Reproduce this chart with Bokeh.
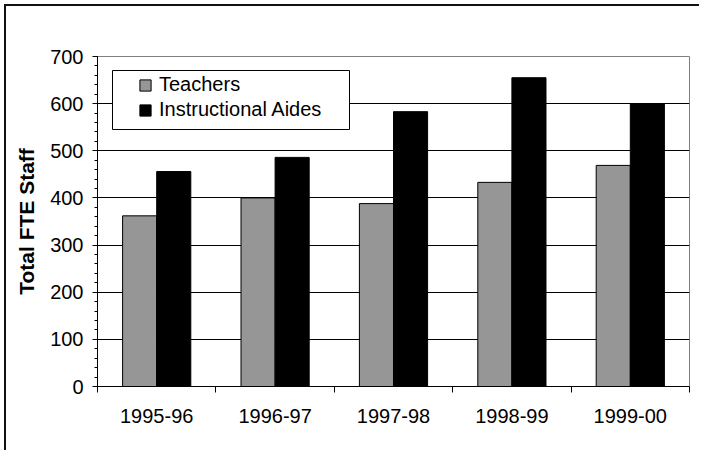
from bokeh.plotting import figure
from bokeh.models import (ColumnDataSource, FactorRange, Range1d, LinearAxis, FixedTicker,
                          SingleIntervalTicker, Legend, LegendItem, BoxAnnotation)
from bokeh.transform import dodge
from bokeh.embed import file_html
from bokeh.resources import INLINE

# ---- data ----
years = ["1995-96", "1996-97", "1997-98", "1998-99", "1999-00"]
teachers = [362, 400, 388, 433, 469]
aides = [456, 486, 583, 655, 600]
series_names = ["Teachers", "Instructional Aides"]
y_label = "Total FTE Staff"

FONT = "Liberation Sans"

source = ColumnDataSource(dict(year=years, teachers=teachers, aides=aides))

p = figure(x_range=FactorRange(factors=years), y_range=Range1d(0, 700),
           width=695, height=446, output_backend="svg", toolbar_location=None,
           x_axis_location=None,
           min_border_left=91, min_border_top=50, min_border_right=12, min_border_bottom=66)
p.styles = {"margin-left": "6px", "margin-top": "6px",
            "box-shadow": "-2px -2px 0 0 #111"}
p.background_fill_color = "white"
p.border_fill_color = "white"
p.outline_line_color = "#808080"
p.outline_line_width = 1

r1 = p.vbar(x=dodge("year", -0.144, range=p.x_range), top="teachers", width=0.288,
            source=source, fill_color="#969696", line_color="black", line_width=1)
r2 = p.vbar(x=dodge("year", 0.144, range=p.x_range), top="aides", width=0.288,
            source=source, fill_color="black", line_color="black", line_width=1)

# x axis: labels at category centres, ticks at category boundaries
n = len(years)
xaxis = LinearAxis(ticker=FixedTicker(ticks=[i + 0.5 for i in range(n)],
                                      minor_ticks=list(range(n + 1))),
                   major_label_overrides={i + 0.5: y for i, y in enumerate(years)})
xaxis.major_tick_out = 0
xaxis.major_tick_in = 0
xaxis.minor_tick_out = 6
xaxis.minor_tick_in = 0
xaxis.axis_line_color = "black"
xaxis.minor_tick_line_color = "black"
xaxis.major_label_text_font = FONT
xaxis.major_label_text_font_size = "20px"
xaxis.major_label_text_color = "black"
xaxis.major_label_standoff = 16
p.add_layout(xaxis, "below")

yticker = SingleIntervalTicker(interval=100, num_minor_ticks=5)
yax = p.yaxis[0]
yax.ticker = yticker
yax.major_tick_out = 5
yax.major_tick_in = 0
yax.minor_tick_out = 3
yax.minor_tick_in = 0
yax.axis_line_color = "black"
yax.major_tick_line_color = "black"
yax.minor_tick_line_color = "black"
yax.major_label_text_font = FONT
yax.major_label_text_font_size = "20px"
yax.major_label_text_color = "black"
yax.major_label_standoff = 9
yax.axis_label = y_label
yax.axis_label_text_font = FONT
yax.axis_label_text_font_size = "21px"
yax.axis_label_text_font_style = "bold"
yax.axis_label_text_color = "black"
yax.axis_label_standoff = 9

p.ygrid.ticker = yticker
p.ygrid.bounds = (0, 699)
p.ygrid.grid_line_color = "black"
p.ygrid.grid_line_width = 1
p.xgrid.grid_line_color = None

box = BoxAnnotation(left=106, right=343, top=64, bottom=123,
                    left_units="canvas", right_units="canvas",
                    top_units="canvas", bottom_units="canvas",
                    fill_color="white", fill_alpha=1.0,
                    line_color="black", line_width=1, line_alpha=1.0, line_dash="solid")
p.add_layout(box)

legend = Legend(items=[LegendItem(label=series_names[0], renderers=[r1]),
                       LegendItem(label=series_names[1], renderers=[r2])],
                location=(41, 264), padding=0, spacing=0, margin=0,
                glyph_width=14, glyph_height=14, label_height=25, label_standoff=7,
                label_text_font=FONT, label_text_font_size="20px",
                label_text_color="black",
                border_line_color=None, background_fill_alpha=0)
p.add_layout(legend)

open("out.html", "w").write(file_html(p, INLINE))
